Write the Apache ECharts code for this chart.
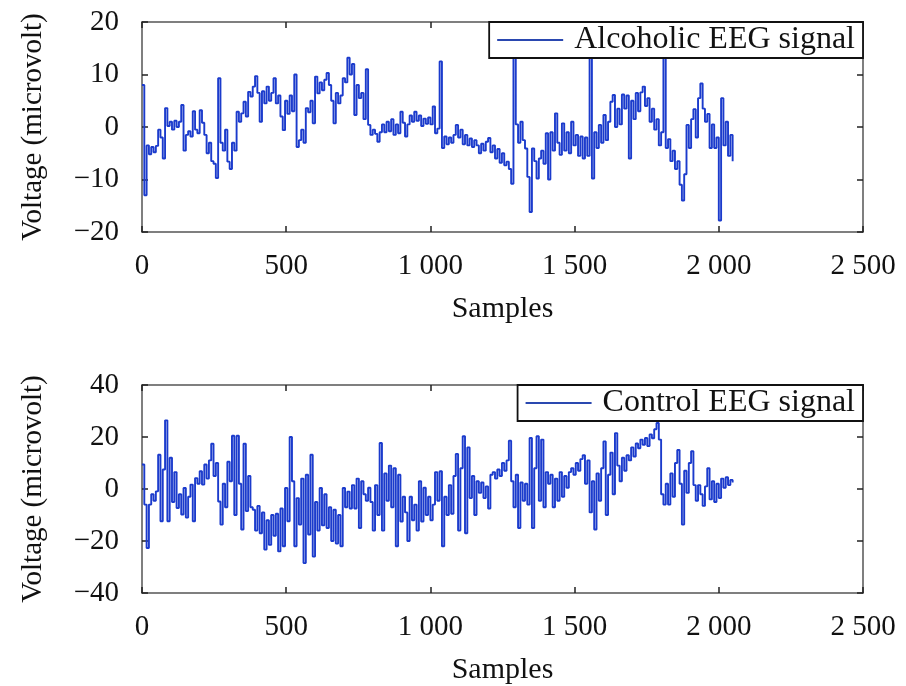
<!DOCTYPE html>
<html>
<head>
<meta charset="utf-8">
<script src="https://cdn.jsdelivr.net/npm/echarts@6/dist/echarts.min.js"></script>
<style>
html,body{margin:0;padding:0;background:#fff;}
#chart{width:906px;height:686px;}
</style>
</head>
<body>
<div id="chart"></div>
<script>
// ---- data (one value every 8 samples) ----
const sampleStep = 8;
const xTicks = [0, 500, 1000, 1500, 2000, 2500];
const alcoholicName = 'Alcoholic EEG signal';
const controlName = 'Control EEG signal';
const alcoholicTicks = [-20, -10, 0, 10, 20];
const controlTicks = [-40, -20, 0, 20, 40];

const alcoholic = [
  8, -13, -3.5, -5.2, -3.8, -4.8, -3.6, -0.5, -2, -6,
  3.6, 0.2, 1, -0.5, 1.2, 0, 1, 4.2, -4.5, -1.5,
  -0.8, -1.8, 3, -0.5, -1.2, 3.2, 0.8, -1.5, -5, -3,
  -6.5, -7, -9.7, 9.3, -3, -4.5, -0.5, -6.6, -8, -3,
  -4.5, 2.9, 1, 2.6, 4.8, 2, 6.7, 5.8, 7.7, 9.7,
  6.5, 1, 6.8, 4.5, 7.7, 5, 6.5, 9.3, 4.5, 6,
  2, -0.6, 5, 2.5, 6, 3, 10, -3.8, -2.5, -0.5,
  -3, 3.6, 2.8, 5, 0.7, 9.6, 6.4, 8.5, 7, 9,
  10.3, 8, 5, 0.7, 6.5, 4.5, 6, 9.3, 8.5, 13.2,
  10, 12, 2.3, 8, 5.5, 6.5, 1.5, 11, 0.4, -1.5,
  -0.5, -1.3, -2.8, -1, 0.5, -1, 1, -0.8, 1.5, -1.5,
  0.5, -1.2, 2.9, 0.8, -1.8, 0.5, 2.2, 1, 2.9, 1.2,
  2.2, 0.2, 1.6, 0.6, 1.8, 0.5, 3.9, -1.2, -0.3, 12.5,
  -4, -1.8, -3.3, -2, -3, -1.5, 0.4, -2, -0.5, -3.3,
  -1.5, -3.5, -2.2, -3.8, -2.5, -3.5, -5, -3.2, -4.5, -2.8,
  -2.1, -4.8, -3.5, -6, -4.2, -6.8, -5, -7.3, -6.6, -8,
  -10.8, 15, 0.5, -3, 1, -2.5, -4.1, -9.5, -16.2, -4.1,
  -6.5, -9.8, -6, -4.5, -7, -1.2, -10, -1, -4.5, 2.6,
  -3, -5.3, 0.7, -4.5, -1, -5, 1, -3.5, -1.5, -5.5,
  -1.8, -6, -2, -5.5, 15, -9.8, -1, -4, 0.4, -3,
  2.3, -2.5, 1, 4.8, 6.1, 0, 3.5, 0.5, 6.2, 3.5,
  6, -6, 5, 1.5, 6.5, 3, 6.6, 7.7, 4, 5.5,
  1, 3.5, -0.5, 1.5, -3.5, -1, 15, -4, -2.3, -6.5,
  -4.5, -8, -6.5, -11, -14, -9, 0.4, -4, 1.5, 3.4,
  -2, 5.5, 8.3, 3.5, 1, 2.5, -4, 0.5, -4, -2,
  -17.8, 5.5, -3.5, 1, -5.5, -1.5, -6.5
];

const control = [
  9.4, -6, -22.7, -6, -2, -4.5, -0.9, 13.2, -12.4, 7.5,
  26.4, -12.4, 12, -5, 6.5, -7.3, -2, -9.8, 0.4, -11,
  -3, 1.7, -12.4, 4.2, 2, 6.8, 1.7, 9.4, 4, 11,
  17.4, 5, 10, -4.8, -13.7, 2, -7, 10.5, 3, 20.5,
  -10, 20.5, 2, -15.6, 17.4, -8.5, 5, -7, -8, -16,
  -6.5, -17, -9, -23.3, -12, -21.5, -10, -18, -9.5, -24,
  -7.5, -22, 0.4, -12.4, 20, 3, -22, -3.5, -13.7, 4,
  -28.5, 5.5, -17.5, 13.2, -26, -5, -16, 0.4, -14, -2,
  -15, -7, -20, -8, -21, -10, -22, 0.4, -7, -1,
  -7.5, 1.5, -7.5, 4, -15, 3, -2, -4.5, 0.5, -5,
  -16, 1.5, -10, 17.7, -16, 6, -4.5, 9, -7, 8,
  -22, 5.5, -12.5, -3, -9, -20, -3, -12, -6, -16,
  3, -12.5, 0.5, -10, -3, -12, -6, 6.5, -4.5, 6.8,
  -22, -3, -10, 1.5, -9.5, 5, 13.5, -16, 8, 20.3,
  -17, 16, -3.5, 5, -10, 3, -1.5, 2.5, -3.5, 1,
  -7.5, 5.5, 6.5, 4, 7.5, 5, 10, 7, 11, 18.6,
  3, -7, 5.5, -15, 2.5, -4.5, 2, -6, 19.6, -15,
  8, 20.3, -4.5, 19, -7, 6.5, 2, 5.5, -7, 4,
  -4.5, 6.5, -3, 5, 0.5, 6.5, 8, 5.5, 10, 7,
  11.5, 13, 2, 11, -9, 3, -15.6, 6, -4.5, 8,
  18.3, -10, 5.5, 14, -2, 21.5, 9, 3, 12, 7,
  13, 11, 16, 12.5, 17.5, 15.7, 19, 17, 19.6, 16.5,
  21, 19.5, 23, 25.4, 19, -2, -6, 2, -6, 6,
  -3, 10, 15, 2, -13.7, 7, -1.5, 10, 14.5, 1.5,
  -4.5, 1.5, -2, -6.5, 1, 8, -4, 3, -5, 2,
  -3.5, 4, 0.5, 4.5, 1.5, 3.5, 2.5
];

// ---- chart ----
const FONT = '"Liberation Serif", "Times New Roman", serif';
const LINE_COLOR = '#1b3bcc';
const LEGEND_LINE = '#2a48b0';
const FRAME = '#555';

function fmtX(v) {
  if (v >= 1000) {
    return Math.floor(v / 1000) + ' ' + String(v % 1000).padStart(3, '0');
  }
  return String(v);
}
function fmtY(v) {
  return v < 0 ? '\u2212' + Math.abs(v) : String(v);
}
function pairs(values) {
  return values.map((v, i) => [i * sampleStep, v]);
}

const grids = [
  { left: 142, top: 22, width: 721, height: 210 },
  { left: 142, top: 385, width: 721, height: 208 }
];

function xAxes(gridIndex) {
  const base = {
    gridIndex, type: 'value', min: xTicks[0], max: xTicks[xTicks.length - 1],
    interval: xTicks[1] - xTicks[0],
    axisLine: { show: true, onZero: false, lineStyle: { color: FRAME, width: 1.5 } },
    axisTick: { show: true, inside: true, length: 6, lineStyle: { color: '#222', width: 1.5 } },
    splitLine: { show: false }
  };
  return [
    Object.assign({}, base, {
      position: 'bottom',
      axisLabel: { show: true, formatter: fmtX, fontFamily: FONT, fontSize: 29, color: '#111', margin: 20,
                   showMinLabel: true, showMaxLabel: true },
      name: 'Samples', nameLocation: 'middle', nameGap: 62,
      nameTextStyle: { fontFamily: FONT, fontSize: 30, color: '#111' }
    }),
    Object.assign({}, base, { position: 'top', axisLabel: { show: false } })
  ];
}
function yAxes(gridIndex, ticks) {
  const base = {
    gridIndex, type: 'value', min: ticks[0], max: ticks[ticks.length - 1],
    interval: ticks[1] - ticks[0],
    axisLine: { show: true, onZero: false, lineStyle: { color: FRAME, width: 1.5 } },
    axisTick: { show: true, inside: true, length: 6, lineStyle: { color: '#222', width: 1.5 } },
    splitLine: { show: false }
  };
  return [
    Object.assign({}, base, {
      position: 'left',
      axisLabel: { show: true, formatter: fmtY, fontFamily: FONT, fontSize: 29, color: '#111', margin: 23 },
      name: 'Voltage (microvolt)', nameLocation: 'middle', nameGap: 94, nameRotate: 90,
      nameTextStyle: { fontFamily: FONT, fontSize: 29, color: '#111' }
    }),
    Object.assign({}, base, { position: 'right', axisLabel: { show: false } })
  ];
}

function legend(top, name) {
  return {
    data: [{ name, icon: 'rect', itemStyle: { color: LEGEND_LINE } }],
    right: 43, top, orient: 'horizontal',
    itemWidth: 66, itemHeight: 2, padding: [2, 8, 2, 8],
    backgroundColor: '#fff', borderColor: '#111', borderWidth: 1.8,
    textStyle: { fontFamily: FONT, fontSize: 32, color: '#111', padding: [0, 0, 0, 6] },
    z: 10
  };
}

const chart = echarts.init(document.getElementById('chart'), null, { renderer: 'canvas' });
chart.setOption({
  animation: false,
  backgroundColor: '#fff',
  grid: grids,
  xAxis: xAxes(0).concat(xAxes(1)),
  yAxis: yAxes(0, alcoholicTicks).concat(yAxes(1, controlTicks)),
  legend: [legend(22, alcoholicName), legend(385, controlName)],
  series: [
    { name: alcoholicName, type: 'line', step: 'end', xAxisIndex: 0, yAxisIndex: 0, data: pairs(alcoholic),
      symbol: 'none', clip: true, lineStyle: { color: LINE_COLOR, width: 1.9 }, itemStyle: { color: LINE_COLOR } },
    { name: controlName, type: 'line', step: 'end', xAxisIndex: 2, yAxisIndex: 2, data: pairs(control),
      symbol: 'none', clip: true, lineStyle: { color: LINE_COLOR, width: 1.9 }, itemStyle: { color: LINE_COLOR } }
  ]
});
</script>
</body>
</html>
